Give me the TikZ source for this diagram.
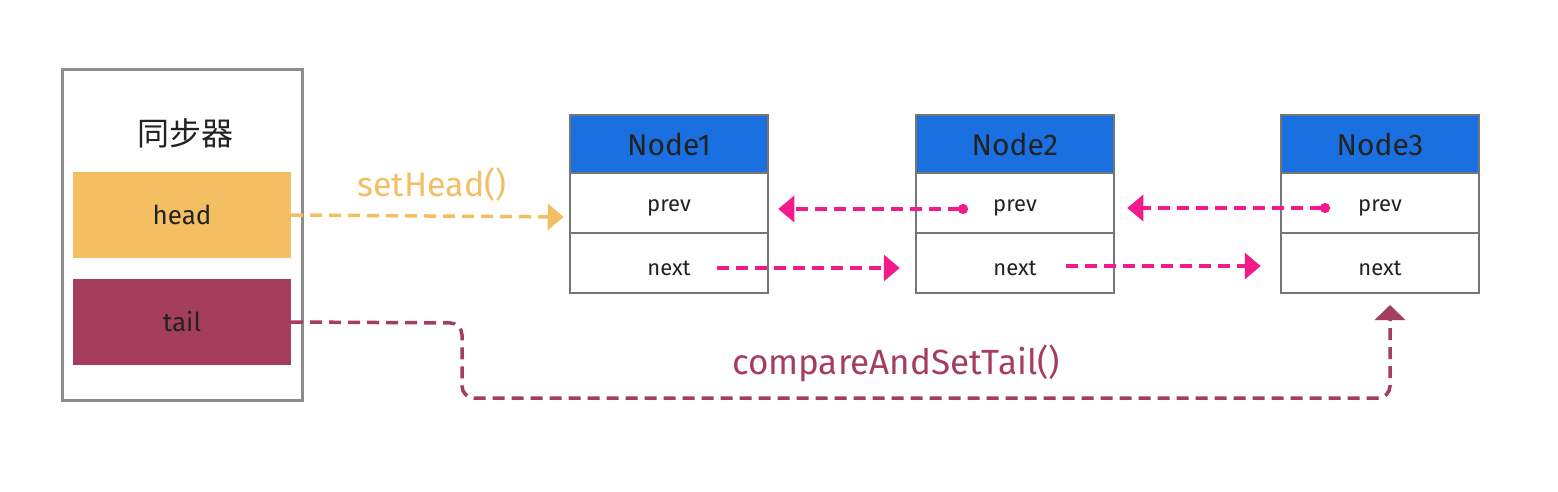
\documentclass[tikz,border=0pt]{standalone}
\usepackage{fontspec}
\setmainfont{Fira Sans}
\newfontfamily\cjk{Noto Sans CJK SC}
\usetikzlibrary{arrows.meta}
\definecolor{cOrange}{HTML}{F4BE62}
\definecolor{cMaroon}{HTML}{A53E5C}
\definecolor{cBlue}{HTML}{1B70E1}
\definecolor{cPink}{HTML}{F31B8C}
\definecolor{cGray}{HTML}{767676}
\definecolor{cFrame}{HTML}{8C8C8C}
\definecolor{cText}{HTML}{222222}
\tikzset{
  frame/.style={draw=cFrame, line width=3pt, fill=white, minimum width=240pt, minimum height=330pt, inner sep=0pt},
  band/.style={minimum width=218pt, minimum height=86pt, inner sep=0pt, text=cText, font=\fontsize{26}{30}\selectfont},
  hdr/.style={draw=cGray, line width=2.5pt, fill=cBlue, minimum width=198pt, minimum height=58pt, inner sep=0pt, text=cText, font=\fontsize{30}{34}\selectfont},
  cell/.style={draw=cGray, line width=2.5pt, fill=white, minimum width=198pt, minimum height=60pt, inner sep=0pt},
  celltext/.style={inner sep=0pt, text=cText, font=\fontsize{22}{26}\selectfont, yshift=-5pt},
  pinkarrow/.style={draw=cPink, line width=3.5pt, dash pattern=on 12pt off 7pt, -{Triangle[length=16pt,width=26pt]}},
  pinkdot/.style={pinkarrow, {Circle[length=10pt]}-{Triangle[length=16pt,width=26pt]}},
  headarrow/.style={draw=cOrange, line width=3.5pt, dash pattern=on 12pt off 7pt, -{Triangle[length=16pt,width=26pt]}},
  tailarrow/.style={draw=cMaroon, line width=3.5pt, dash pattern=on 12pt off 7pt, -{Triangle[length=15pt,width=30pt]}},
  lbl/.style={inner sep=0pt}
}
\begin{document}
\begin{tikzpicture}[x=1pt,y=-1pt]
\useasboundingbox (0,0) rectangle (1558,492);
% synchronizer
\node[frame] (sync) at (182,235) {};
\node[inner sep=0pt, text=cText, font=\cjk\fontsize{32}{36}\selectfont] (title) at (185,133) {同步器};
\node[band, fill=cOrange] (head) at (182,215) {head};
\node[band, fill=cMaroon] (tail) at (182,322) {tail};
% Node1
\node[hdr] (n1h) at (669,144) {Node1};
\node[cell, label={[celltext]center:prev}] (n1p) at (669,203) {};
\node[cell, label={[celltext]center:next}] (n1n) at (669,263) {};
% Node2
\node[hdr] (n2h) at (1015,144) {Node2};
\node[cell, label={[celltext]center:prev}] (n2p) at (1015,203) {};
\node[cell, label={[celltext]center:next}] (n2n) at (1015,263) {};
% Node3
\node[hdr] (n3h) at (1380,144) {Node3};
\node[cell, label={[celltext]center:prev}] (n3p) at (1380,203) {};
\node[cell, label={[celltext]center:next}] (n3n) at (1380,263) {};
% start points
\coordinate (d2) at (968,209);
\coordinate (d3) at (1330,208);
\coordinate (s1) at (717,268);
\coordinate (s2) at (1066,266);
% links
\draw[pinkdot] (d2) -- ([xshift=9pt,yshift=-6pt]n1p.east);
\draw[pinkdot] (d3) -- ([xshift=12pt,yshift=-5pt]n2p.east);
\draw[pinkarrow] (s1) -- ([xshift=-15pt,yshift=-5pt]n2n.west);
\draw[pinkarrow] (s2) -- ([xshift=-19pt,yshift=-3pt]n3n.west);
\draw[headarrow] (head.east) -- ([xshift=-5pt,yshift=-14pt]n1p.west);
\coordinate (tt) at (1390,305);
\draw[tailarrow, rounded corners=12pt] (tail.east) -- (462,323) -- (462,398) -- (1390,398) -- (tt);
% labels
\node[lbl, text=cOrange, font=\fontsize{34}{38}\selectfont] (lh) at (432,185) {setHead()};
\node[lbl, text=cMaroon, font=\fontsize{35}{40}\selectfont] (lt) at (896,363) {compareAndSetTail()};
\end{tikzpicture}
\end{document}
